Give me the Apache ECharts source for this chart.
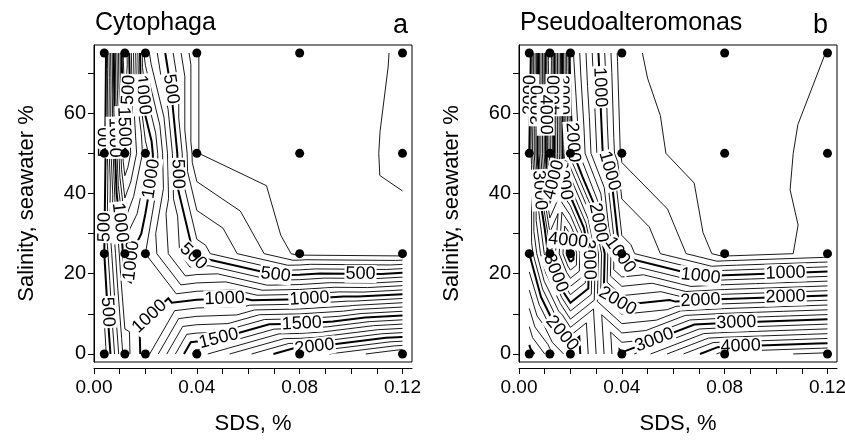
<!DOCTYPE html>
<html><head><meta charset="utf-8">
<script src="https://cdn.jsdelivr.net/npm/echarts@6/dist/echarts.min.js"></script>
<style>html,body{margin:0;padding:0;background:#fff}#c{width:845px;height:441px}</style>
</head><body><div id="c"></div>
<script>
// ---- data ----
const sdsLevels = [0.004, 0.012, 0.02, 0.04, 0.08, 0.12];      // SDS, %
const salinityLevels = [0, 25, 50, 75];                        // salinity, % seawater
// rows: salinity 0,25,50,75 ; columns: SDS levels
const cytophagaCounts = [
  [350, 850, 1050, 1650, 2120, 2400],
  [500, 1050, 900, 450, 68, 50],
  [450, 1500, 1150, 102, 0, 130],
  [400, 1700, 750, 102, 0, 115]
];
const pseudoCounts = [
  [900, 1300, 1750, 3050, 4300, 4450],
  [2000, 3100, 4200, 900, 100, 250],
  [2000, 4500, 2100, 350, 0, 300],
  [1800, 4600, 1900, 250, 0, 205]
];
const cytophagaLevelStep = 100, cytophagaLabelStep = 500;
const pseudoLevelStep = 200, pseudoLabelStep = 1000;
const xTickValues = [0, 0.01, 0.02, 0.03, 0.04, 0.05, 0.06, 0.07, 0.08, 0.09, 0.10, 0.11, 0.12];
const xLabelValues = [0, 0.04, 0.08, 0.12];
const yTickValues = [0, 10, 20, 30, 40, 50, 60, 70];
const yLabelValues = [0, 20, 40, 60];
const panelTitles = ['Cytophaga', 'Pseudoalteromonas'];
const panelLetters = ['a', 'b'];

// ---- contouring (marching triangles on the grid) ----
function ordered(a, b) { return (a[0] < b[0] || (a[0] === b[0] && a[1] < b[1])) ? [a, b] : [b, a]; }
function contourLines(xs, ys, Z, level) {
  const segs = [];
  const cross = (u, v) => { const [a, b] = ordered(u, v); const t = (level - a[2]) / (b[2] - a[2]); return [a[0] + t * (b[0] - a[0]), a[1] + t * (b[1] - a[1])]; };
  for (let j = 0; j < ys.length - 1; j++) for (let i = 0; i < xs.length - 1; i++) {
    const p00 = [xs[i], ys[j], Z[j][i]], p10 = [xs[i + 1], ys[j], Z[j][i + 1]];
    const p11 = [xs[i + 1], ys[j + 1], Z[j + 1][i + 1]], p01 = [xs[i], ys[j + 1], Z[j + 1][i]];
    const c = [(xs[i] + xs[i + 1]) / 2, (ys[j] + ys[j + 1]) / 2, (p00[2] + p10[2] + p11[2] + p01[2]) / 4];
    for (const [a, b] of [[p00, p10], [p10, p11], [p11, p01], [p01, p00]]) {
      const tri = [a, b, c], pts = [];
      for (let k = 0; k < 3; k++) { const u = tri[k], v = tri[(k + 1) % 3]; if ((u[2] >= level) !== (v[2] >= level)) pts.push(cross(u, v)); }
      if (pts.length === 2) segs.push(pts);
    }
  }
  const key = p => Math.round(p[0] * 1e7) + ',' + Math.round(p[1] * 1e4);
  const map = new Map();
  segs.forEach((s, idx) => s.forEach(p => { const k = key(p); if (!map.has(k)) map.set(k, []); map.get(k).push(idx); }));
  const used = segs.map(() => false), lines = [];
  for (let s0 = 0; s0 < segs.length; s0++) {
    if (used[s0]) continue; used[s0] = true;
    const line = [segs[s0][0], segs[s0][1]];
    for (const dir of [1, -1]) {
      while (true) {
        const end = dir === 1 ? line[line.length - 1] : line[0];
        const cand = (map.get(key(end)) || []).find(i => !used[i]);
        if (cand === undefined) break;
        used[cand] = true;
        const s = segs[cand]; const nxt = key(s[0]) === key(end) ? s[1] : s[0];
        if (dir === 1) line.push(nxt); else line.unshift(nxt);
      }
    }
    lines.push(line);
  }
  return lines;
}
function buildPolys(Z, step, labelStep) {
  let maxV = -Infinity; Z.forEach(r => r.forEach(v => { if (v > maxV) maxV = v; }));
  const polys = [];
  for (let lv = step; lv <= maxV; lv += step) {
    contourLines(sdsLevels, salinityLevels, Z, lv).forEach(pts => polys.push({ level: lv, thick: lv % labelStep === 0, pts }));
  }
  return polys;
}

const FONT = '"Liberation Sans", Arial, Helvetica, sans-serif';
function lineRenderer(polys) {
  return function (params, api) {
    const poly = polys[api.value(2)];
    return { type: 'polyline', silent: true, shape: { points: poly.pts.map(p => api.coord(p)) },
      style: { stroke: '#000', fill: null, lineWidth: poly.thick ? 2 : 0.9 } };
  };
}
function labelRenderer(polys) {
  return function (params, api) {
    const poly = polys[api.value(2)];
    const pts = poly.pts.map(p => api.coord(p));
    const cum = [0];
    for (let i = 1; i < pts.length; i++) cum.push(cum[i - 1] + Math.hypot(pts[i][0] - pts[i - 1][0], pts[i][1] - pts[i - 1][1]));
    const total = cum[cum.length - 1];
    const at = s => {
      s = Math.max(0, Math.min(total, s));
      let i = 1; while (i < cum.length - 1 && cum[i] < s) i++;
      const seg = cum[i] - cum[i - 1] || 1, t = (s - cum[i - 1]) / seg;
      return [pts[i - 1][0] + t * (pts[i][0] - pts[i - 1][0]), pts[i - 1][1] + t * (pts[i][1] - pts[i - 1][1])];
    };
    const children = [];
    if (total >= 35) {
      const spacing = 85, pos = [];
      if (total < 100) pos.push(total / 2); else for (let s = 42; s < total - 20; s += spacing) pos.push(s);
      pos.forEach(s => {
        const p = at(s), a = at(s - 12), b = at(s + 12);
        let ang = Math.atan2(b[1] - a[1], b[0] - a[0]);
        if (ang > Math.PI / 2 + 1e-6) ang -= Math.PI;
        if (ang <= -Math.PI / 2 + 1e-6) ang += Math.PI;
        children.push({ type: 'text', x: p[0], y: p[1], rotation: -ang, silent: true,
          style: { text: String(poly.level), x: 0, y: 0, align: 'center', verticalAlign: 'middle',
            font: '18px ' + FONT, fill: '#000', backgroundColor: '#fff', padding: [0, 1] } });
      });
    }
    return { type: 'group', children };
  };
}

const panels = [
  { Z: cytophagaCounts, step: cytophagaLevelStep, lab: cytophagaLabelStep, left: 94 },
  { Z: pseudoCounts, step: pseudoLevelStep, lab: pseudoLabelStep, left: 519 }
];
const points = [];
salinityLevels.forEach(y => sdsLevels.forEach(x => points.push([x, y])));

const grids = [], xAxes = [], yAxes = [], series = [], graphics = [];
panels.forEach((pn, k) => {
  grids.push({ left: pn.left, top: 45, width: 318, height: 317, containLabel: false, outerBoundsMode: 'none',
    show: true, borderColor: '#000', borderWidth: 1, backgroundColor: 'transparent' });
  xAxes.push({ gridIndex: k, type: 'value', min: 0, max: 0.1237, offset: 6,
    axisLine: { show: true, onZero: false, lineStyle: { color: '#000', width: 1 } },
    axisTick: { show: true, customValues: xTickValues, length: 6, lineStyle: { color: '#000' } },
    axisLabel: { customValues: xLabelValues, formatter: v => v.toFixed(2), color: '#000', fontSize: 19, fontFamily: FONT, margin: 10 },
    splitLine: { show: false },
    name: 'SDS, %', nameLocation: 'middle', nameGap: 45, nameTextStyle: { color: '#000', fontSize: 22, fontFamily: FONT } });
  yAxes.push({ gridIndex: k, type: 'value', min: -2, max: 77,
    axisLine: { show: true, onZero: false, lineStyle: { color: '#000', width: 1 } },
    axisTick: { show: true, customValues: yTickValues, length: 6, lineStyle: { color: '#000' } },
    axisLabel: { customValues: yLabelValues, color: '#000', fontSize: 20, fontFamily: FONT, margin: 8 },
    splitLine: { show: false },
    name: 'Salinity, seawater %', nameLocation: 'middle', nameGap: 56, nameRotate: 90,
    nameTextStyle: { color: '#000', fontSize: 22, fontFamily: FONT } });
  const polys = buildPolys(pn.Z, pn.step, pn.lab);
  const data = polys.map((p, i) => [p.pts[0][0], p.pts[0][1], i]);
  series.push({ type: 'custom', xAxisIndex: k, yAxisIndex: k, renderItem: lineRenderer(polys), data, encode: { x: 0, y: 1 }, silent: true, z: 2 });
  series.push({ type: 'custom', xAxisIndex: k, yAxisIndex: k, renderItem: labelRenderer(polys), data: data.filter(d => polys[d[2]].thick), encode: { x: 0, y: 1 }, silent: true, z: 3 });
  series.push({ type: 'scatter', xAxisIndex: k, yAxisIndex: k, data: points, symbol: 'circle', symbolSize: 9, itemStyle: { color: '#000', opacity: 1 }, silent: true, z: 5 });
  graphics.push({ type: 'text', left: pn.left + 1, top: 11, style: { text: panelTitles[k], font: '25px ' + FONT, fill: '#000' } });
  graphics.push({ type: 'text', left: pn.left + (k === 0 ? 299 : 294), top: 12, style: { text: panelLetters[k], font: '27px ' + FONT, fill: '#000' } });
});

const chart = echarts.init(document.getElementById('c'), null, { renderer: 'canvas' });
chart.setOption({ animation: false, backgroundColor: '#fff', grid: grids, xAxis: xAxes, yAxis: yAxes, series, graphic: graphics });
</script></body></html>
